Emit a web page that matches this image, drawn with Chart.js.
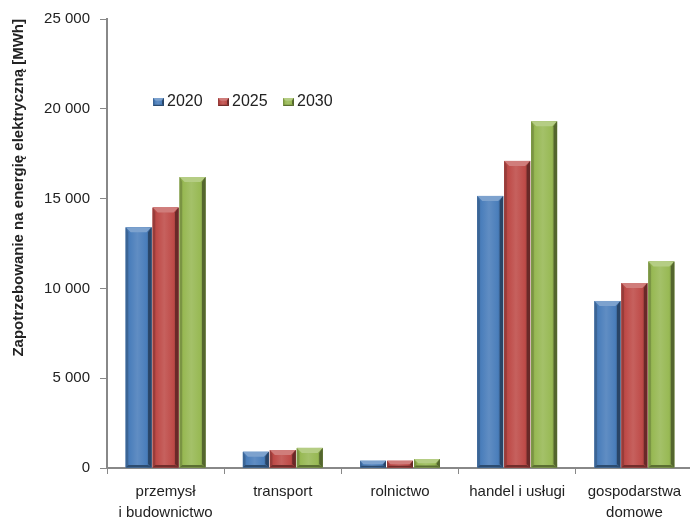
<!DOCTYPE html>
<html>
<head>
<meta charset="utf-8">
<script src="https://cdn.jsdelivr.net/npm/chart.js@4.4.1/dist/chart.umd.min.js"></script>
<style>
  html, body { margin: 0; padding: 0; background: #fff; overflow: hidden; }
  #wrap { width: 690px; height: 522px; overflow: hidden; }
  #c { display: block; }
</style>
</head>
<body>
<div id="wrap"><canvas id="c" width="693" height="522"></canvas></div>
<script>
// Electricity demand by sector, MWh
const categories = [["przemysł", "i budownictwo"], "transport", "rolnictwo", "handel i usługi", ["gospodarstwa", "domowe"]];
const years = ["2020", "2025", "2030"];
const values2020 = [13400, 900, 400, 15150, 9300];
const values2025 = [14500, 1000, 400, 17100, 10300];
const values2030 = [16200, 1120, 500, 19300, 11500];
const yTicks = [0, 5000, 10000, 15000, 20000, 25000];
const yTitle = "Zapotrzebowanie na energię elektryczną [MWh]";

const colors = ["#4a7ebb", "#be4b48", "#98b954"];
const FONT = "'Liberation Sans', Arial, sans-serif";

function shade(hex, f) {
  const n = parseInt(hex.slice(1), 16);
  let r = (n >> 16) & 255, g = (n >> 8) & 255, b = n & 255;
  if (f >= 0) { r += (255 - r) * f; g += (255 - g) * f; b += (255 - b) * f; }
  else { r *= 1 + f; g *= 1 + f; b *= 1 + f; }
  return `rgb(${Math.round(r)},${Math.round(g)},${Math.round(b)})`;
}

// Bevelled bar face drawn over a rectangle
function bevelBox(ctx, x0, x1, top, bottom, base) {
  const w = x1 - x0, h = bottom - top;
  if (w <= 0 || h <= 0) return;
  const g = ctx.createLinearGradient(x0, 0, x1, 0);
  g.addColorStop(0, shade(base, -0.15));
  g.addColorStop(0.15, base);
  g.addColorStop(0.45, shade(base, 0.12));
  g.addColorStop(0.8, base);
  g.addColorStop(1, shade(base, -0.35));
  ctx.fillStyle = g;
  ctx.fillRect(x0, top, w, h);
  const b = Math.min(5, w / 4, h / 2);
  // top facet
  ctx.fillStyle = shade(base, 0.28);
  ctx.beginPath();
  ctx.moveTo(x0, top); ctx.lineTo(x1, top); ctx.lineTo(x1 - b, top + b); ctx.lineTo(x0 + b, top + b);
  ctx.closePath(); ctx.fill();
  // right facet
  ctx.fillStyle = shade(base, -0.45);
  ctx.beginPath();
  ctx.moveTo(x1, top); ctx.lineTo(x1, bottom); ctx.lineTo(x1 - b * 0.7, bottom - b * 0.7); ctx.lineTo(x1 - b * 0.7, top + b);
  ctx.closePath(); ctx.fill();
  // left facet
  ctx.fillStyle = shade(base, -0.2);
  ctx.beginPath();
  ctx.moveTo(x0, top); ctx.lineTo(x0 + b * 0.5, top + b); ctx.lineTo(x0 + b * 0.5, bottom - b * 0.5); ctx.lineTo(x0, bottom);
  ctx.closePath(); ctx.fill();
  // bottom facet
  ctx.fillStyle = shade(base, -0.4);
  ctx.beginPath();
  ctx.moveTo(x0, bottom); ctx.lineTo(x1, bottom); ctx.lineTo(x1 - b * 0.7, bottom - b * 0.5); ctx.lineTo(x0 + b * 0.5, bottom - b * 0.5);
  ctx.closePath(); ctx.fill();
}

const bevelPlugin = {
  id: "bevel",
  afterDatasetsDraw(chart) {
    const ctx = chart.ctx;
    ctx.save();
    chart.data.datasets.forEach((ds, i) => {
      const meta = chart.getDatasetMeta(i);
      if (meta.hidden) return;
      meta.data.forEach(bar => {
        const p = bar.getProps(["x", "y", "base", "width"], true);
        bevelBox(ctx, p.x - p.width / 2, p.x + p.width / 2, p.y, p.base, colors[i]);
      });
    });
    ctx.restore();
  }
};

// Legend row placed inside the plot area
const legendPlugin = {
  id: "innerLegend",
  afterDraw(chart) {
    const ctx = chart.ctx;
    ctx.save();
    ctx.font = "16px " + FONT;
    ctx.textBaseline = "middle";
    const y = 101;
    years.forEach((yr, i) => {
      const x = 153 + i * 65;
      bevelBox(ctx, x, x + 11, y - 3, y + 5, colors[i]);
      ctx.fillStyle = "#222";
      ctx.fillText(yr, x + 14, y + 1);
    });
    ctx.restore();
  }
};

const fmt = v => String(v).replace(/\B(?=(\d{3})+(?!\d))/g, " ");

new Chart(document.getElementById("c"), {
  type: "bar",
  data: {
    labels: categories,
    datasets: [
      { label: years[0], data: values2020, backgroundColor: colors[0] },
      { label: years[1], data: values2025, backgroundColor: colors[1] },
      { label: years[2], data: values2030, backgroundColor: colors[2] }
    ]
  },
  options: {
    responsive: false,
    animation: false,
    devicePixelRatio: 1,
    layout: { padding: { top: 19, right: 0, left: 0, bottom: 0 } },
    datasets: { bar: { categoryPercentage: 0.69, barPercentage: 0.96 } },
    plugins: {
      legend: { display: false },
      tooltip: { enabled: false }
    },
    scales: {
      x: {
        grid: { display: true, drawOnChartArea: false, offset: true, tickLength: 6, color: "#888", lineWidth: 1 },
        border: { color: "#888", width: 2 },
        ticks: { color: "#222", font: { family: FONT, size: 15, lineHeight: 1.35 }, padding: 8, maxRotation: 0, autoSkip: false },
        afterFit(s) { s.height = 54; }
      },
      y: {
        min: 0, max: 25000,
        afterBuildTicks(s) { s.ticks = yTicks.map(v => ({ value: v })); },
        grid: { display: true, drawOnChartArea: false, tickLength: 7, color: "#888", lineWidth: 1 },
        border: { color: "#888", width: 2 },
        ticks: { color: "#222", font: { family: FONT, size: 15 }, padding: 10, callback: v => fmt(v) },
        title: { display: true, text: yTitle, align: "end", color: "#222", font: { family: FONT, size: 15, weight: "bold" }, padding: { top: 10, bottom: 0 } },
        afterFit(s) { s.width = 107; }
      }
    }
  },
  plugins: [bevelPlugin, legendPlugin]
});
</script>
</body>
</html>
